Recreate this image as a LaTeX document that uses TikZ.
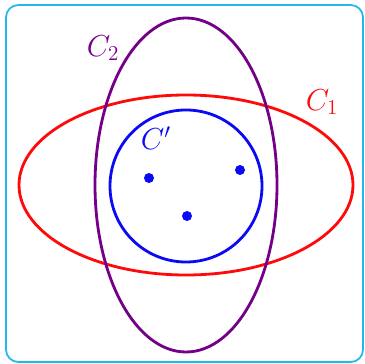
\documentclass[tikz,border=0pt]{standalone}
\usepackage{tikz}
\definecolor{venn@frame}{RGB}{30,185,240}
\definecolor{venn@red}{RGB}{255,10,10}
\definecolor{venn@purple}{RGB}{115,0,135}
\definecolor{venn@blue}{RGB}{10,10,245}
\tikzset{
  venn/.style={
    x=0.02cm, y=-0.02cm,
    line width=1.6pt,
    every node/.style={font=\LARGE}
  },
  framebox/.style={draw=venn@frame, line width=1pt, rounded corners=7pt},
  setone/.style={draw=venn@red},
  settwo/.style={draw=venn@purple},
  setsub/.style={draw=venn@blue},
  elem/.style={fill=venn@blue, draw=none}
}
\begin{document}
\begin{tikzpicture}[venn]
\useasboundingbox (0,0) rectangle (365,364);
% universe
\draw[framebox] (6,5) rectangle (363,362);

% the two big sets
\draw[setone] (186,185) ellipse (167 and 90);
\draw[settwo] (186,185) ellipse (91 and 167);

% inner set with its points
\draw[setsub] (186,186) ellipse (76 and 76);
\fill[elem] (149,178) ellipse (5 and 5);
\fill[elem] (240,170) ellipse (5 and 5);
\fill[elem] (187,216) ellipse (5 and 5);

% labels
\node[text=venn@purple] (labtwo) at (103,48) {$C_2$};
\node[text=venn@red] (labone) at (322,102) {$C_1$};
\node[text=venn@blue] (labsub) at (156,138) {$C'$};
\end{tikzpicture}
\end{document}
